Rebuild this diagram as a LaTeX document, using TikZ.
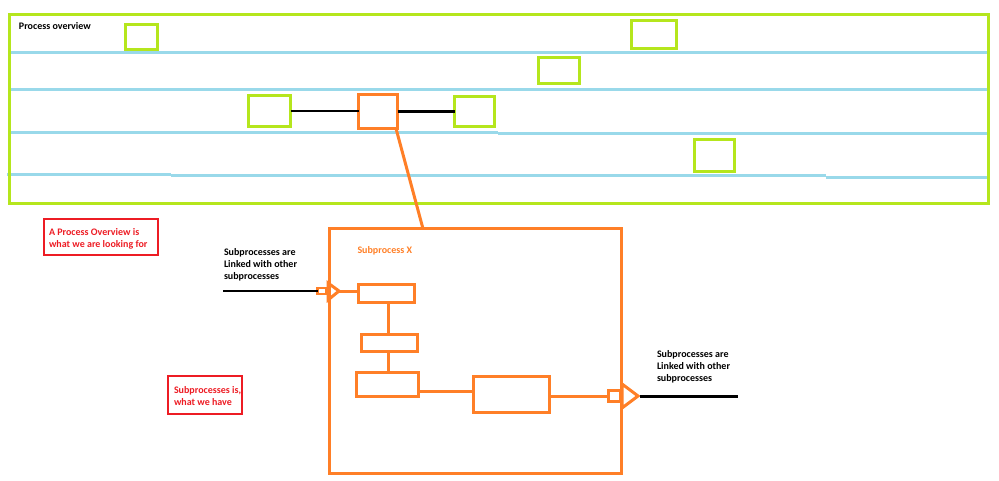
\documentclass[tikz,border=0pt]{standalone}
\usepackage{fontspec}
\setmainfont{Carlito}
\usetikzlibrary{calc}
\definecolor{plime}{RGB}{181,230,29}
\definecolor{pblue}{RGB}{153,217,234}
\definecolor{porange}{RGB}{255,127,39}
\definecolor{pred}{RGB}{237,28,36}
\tikzset{
  box/.style={draw, inner sep=0pt, outer sep=0pt},
  gbox/.style={box, draw=plime, line width=3.5pt},
  obox/.style={box, draw=porange, line width=3.5pt},
  rbox/.style={box, draw=pred, line width=2.2pt},
  lane/.style={draw=pblue, line width=3pt},
  link/.style={draw=black, line width=2.3pt},
  olink/.style={draw=porange, line width=3pt},
  txt/.style={inner sep=0pt, outer sep=0pt, anchor=north west, align=left, font=\fontsize{10}{12}\selectfont\bfseries},
}
\begin{document}
\begin{tikzpicture}[x=1pt,y=-1pt]
\useasboundingbox (0,0) rectangle (999,481);
% swim lanes
\draw[lane] (10,52.7) -- (988,52.7);
\draw[lane] (10,89.3) -- (989,89.3);
\draw[lane] (9,132.7) -- (498,132.7);
\draw[lane] (498,134) -- (987,134);
\draw[lane] (7,174.7) -- (171,174.7);
\draw[lane] (171,176) -- (826,176);
\draw[lane] (826,177.5) -- (990,177.5);
% overview frame
\node[gbox, minimum width=979pt, minimum height=189pt] (pframe) at (499,109) {};
\node[txt] (pov) at (19,21.5) {\rule{0pt}{8pt}Process overview};
% green boxes
\node[gbox, minimum width=32pt, minimum height=25pt] (g1) at (141.5,37) {};
\node[gbox, minimum width=42pt, minimum height=31pt] (g2) at (269.5,111) {};
\node[gbox, minimum width=45pt, minimum height=28pt] (g3) at (654,34.5) {};
\node[gbox, minimum width=41pt, minimum height=26pt] (g4) at (559,70.5) {};
\node[gbox, minimum width=40pt, minimum height=30pt] (g5) at (474.5,111.5) {};
\node[gbox, minimum width=40pt, minimum height=32pt] (g6) at (714.5,155.5) {};
\node[obox, minimum width=39pt, minimum height=34pt] (o1) at (378,111.5) {};
\draw[link] (g2.east) -- (g2.east -| o1.west);
\draw[link] (o1.east) -- (o1.east -| g5.west);
% subprocess frame
\node[obox, minimum width=292pt, minimum height=245pt] (sub) at (475.5,351) {};
\draw[olink] ([xshift=-1.5pt]o1.south east) -- ($(sub.north west)!0.32!(sub.north east)$);
\node[txt, text=porange] (spx) at (357.5,245.3) {\rule{0pt}{8pt}Subprocess X};
% inner boxes
\node[obox, minimum width=56pt, minimum height=18pt] (a) at (386.5,293.5) {};
\node[obox, minimum width=56pt, minimum height=17pt] (b) at (389.5,343) {};
\node[obox, minimum width=62pt, minimum height=24pt] (c) at (387.5,384.5) {};
\node[obox, minimum width=76pt, minimum height=36pt] (d) at (511.5,394.5) {};
\draw[olink] ([xshift=1.5pt]a.south) -- ([xshift=1.5pt]a.south |- b.north);
\draw[olink] ([xshift=-1.5pt]b.south) -- ([xshift=-1.5pt]b.south |- c.north);
\draw[olink] ([yshift=3.5pt]d.west) -- ([yshift=3.5pt]d.west -| c.east);
% left port
\node[box, draw=porange, line width=2.8pt, minimum width=9pt, minimum height=6pt] (pl) at (322,291) {};
\coordinate (tipL) at (339,291);
\draw[olink, line join=miter] (tipL) -- ++(-11,-8) -- ++(0,17) -- cycle;
\draw[olink] (tipL) -- (tipL -| a.west);
\coordinate (inL) at (223,291);
\draw[link] (inL) -- (pl.west);
% right port
\node[box, draw=porange, line width=2.8pt, minimum width=12pt, minimum height=11pt] (pr) at (614.5,396) {};
\coordinate (tipR) at (638,396);
\draw[olink, line join=miter] (tipR) -- ++(-16,-12) -- ++(0,24) -- cycle;
\draw[olink] (d.east |- pr.west) -- (pr.west);
\coordinate (outR) at (738,396.5);
\draw[link] ([xshift=2pt]tipR |- outR) -- (outR);
% notes
\node[rbox, minimum width=114pt, minimum height=36pt] (r1) at (101,237) {};
\node[txt, text=pred] (t1) at (49,227.5) {\rule{0pt}{8pt}A Process Overview is\\what we are looking for};
\node[rbox, minimum width=74pt, minimum height=38pt] (r2) at (205,395) {};
\node[txt, text=pred] (t2) at (174,385.3) {\rule{0pt}{8pt}Subprocesses is,\\what we have};
\node[txt] (t3) at (224,247.3) {\rule{0pt}{8pt}Subprocesses are\\Linked with other\\subprocesses};
\node[txt] (t4) at (657,349.5) {\rule{0pt}{8pt}Subprocesses are\\Linked with other\\subprocesses};
\end{tikzpicture}
\end{document}
